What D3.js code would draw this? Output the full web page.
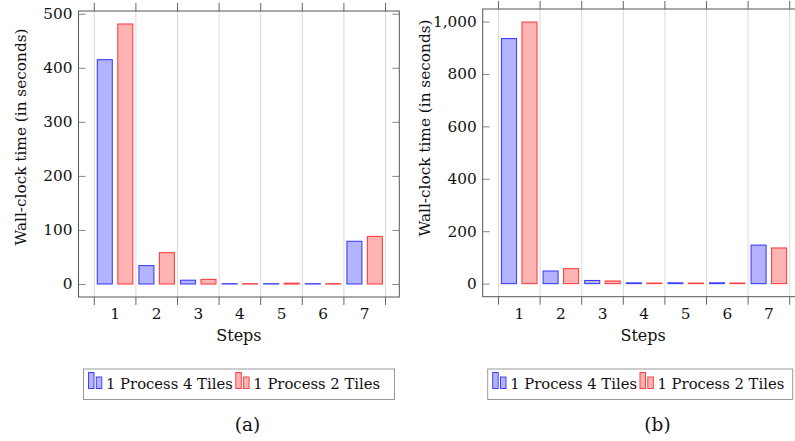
<!DOCTYPE html>
<html>
<head>
<meta charset="utf-8">
<script src="https://cdn.jsdelivr.net/npm/d3@7"></script>
<style>
  body { margin: 0; background: #fff; }
  text { font-family: "DejaVu Serif", serif; fill: #111; }
</style>
</head>
<body>
<div id="chart"></div>
<script>
// categories and series
var steps = ["1", "2", "3", "4", "5", "6", "7"];
var seriesNames = ["1 Process 4 Tiles", "1 Process 2 Tiles"];

// panel (a) values, seconds
var a4Tiles = [415, 34, 7, 0.6, 0.6, 0.6, 79];
var a2Tiles = [481, 58, 8.5, 0.6, 1.5, 0.6, 88];
var aTicks = [0, 100, 200, 300, 400, 500];

// panel (b) values, seconds
var b4Tiles = [935, 48, 12, 3, 3, 3, 147];
var b2Tiles = [998, 57, 10, 2, 2, 2, 136];
var bTicks = [0, 200, 400, 600, 800, 1000];

var colors = [
  {fill: "#b3b3ff", stroke: "#4040ff"},
  {fill: "#ffb3b3", stroke: "#ff4040"}
];
var fontSize = 15.3;

var svg = d3.select("#chart").append("svg")
    .attr("width", 795)
    .attr("height", 441);

function drawPanel(p) {
  var w = 320.8, h = p.bottom - p.top;
  var g = svg.append("g").attr("transform", "translate(" + p.left + "," + p.top + ")");

  var vmax = d3.max(p.series, function(s) { return d3.max(s); });
  var y = d3.scaleLinear()
      .domain([-0.05 * vmax, vmax * 1.05])
      .range([h, 0]);

  var x = d3.scaleBand()
      .domain(steps)
      .range([15.8, 15.8 + 7 * 41.6]);

  var xs = d3.scaleBand()
      .domain(seriesNames)
      .range([3, 38.5])
      .paddingInner(0.268);

  // band edges for grid + ticks
  var edges = steps.map(function(s) { return x(s); }).concat([x(steps[6]) + x.bandwidth()]);

  g.selectAll(".grid")
      .data(edges)
    .enter().append("line")
      .attr("x1", function(d) { return d; })
      .attr("x2", function(d) { return d; })
      .attr("y1", 0)
      .attr("y2", h)
      .attr("stroke", "#dadada");

  // outside x ticks, top and bottom
  g.selectAll(".xtb")
      .data(edges)
    .enter().append("line")
      .attr("x1", function(d) { return d; })
      .attr("x2", function(d) { return d; })
      .attr("y1", h)
      .attr("y2", h + 8)
      .attr("stroke", "#666");
  g.selectAll(".xtt")
      .data(edges)
    .enter().append("line")
      .attr("x1", function(d) { return d; })
      .attr("x2", function(d) { return d; })
      .attr("y1", 0)
      .attr("y2", -8)
      .attr("stroke", "#666");

  // bars
  p.series.forEach(function(vals, i) {
    g.selectAll(".bar" + i)
        .data(vals)
      .enter().append("rect")
        .attr("x", function(d, j) { return x(steps[j]) + xs(seriesNames[i]); })
        .attr("y", function(d) { return y(d); })
        .attr("width", xs.bandwidth())
        .attr("height", function(d) { return y(0) - y(d); })
        .attr("fill", colors[i].fill)
        .attr("stroke", colors[i].stroke)
        .attr("stroke-width", 1.1);
  });

  // y axis, ticks inside on both sides
  var yAxis = g.append("g")
      .call(d3.axisLeft(y).tickValues(p.ticks).tickSize(-7).tickPadding(6).tickFormat(d3.format(",")));
  yAxis.select(".domain").remove();
  yAxis.selectAll("line").attr("stroke", "#888");
  yAxis.selectAll("text").attr("font-size", fontSize).attr("fill", "#111")
      .attr("font-family", "DejaVu Serif");

  var yRight = g.append("g")
      .attr("transform", "translate(" + w + ",0)")
      .call(d3.axisRight(y).tickValues(p.ticks).tickSize(-7).tickFormat(""));
  yRight.select(".domain").remove();
  yRight.selectAll("line").attr("stroke", "#888");

  // x tick labels
  var xAxis = g.append("g")
      .attr("transform", "translate(0," + h + ")")
      .call(d3.axisBottom(x).tickSize(0).tickPadding(11));
  xAxis.select(".domain").remove();
  xAxis.selectAll("text").attr("font-size", fontSize).attr("fill", "#111")
      .attr("font-family", "DejaVu Serif");

  // frame
  g.append("rect")
      .attr("width", w)
      .attr("height", h)
      .attr("fill", "none")
      .attr("stroke", "#555");

  g.append("text")
      .attr("x", w / 2)
      .attr("y", 341 - p.top)
      .attr("text-anchor", "middle")
      .attr("font-size", 16)
      .text("Steps");

  g.append("text")
      .attr("transform", "translate(-57.5," + (p.labelY - p.top) + ") rotate(-90)")
      .attr("text-anchor", "middle")
      .attr("dominant-baseline", "central")
      .attr("font-size", fontSize)
      .text("Wall-clock time (in seconds)");

  // legend
  var lg = svg.append("g").attr("transform", "translate(" + (p.left + 5) + ",369)");
  lg.append("rect")
      .attr("width", p.legendW)
      .attr("height", 30.5)
      .attr("fill", "#fff")
      .attr("stroke", "#999");
  var cx = 5;
  seriesNames.forEach(function(name, i) {
    lg.append("rect").attr("x", cx).attr("y", 3.5).attr("width", 5.5).attr("height", 16)
        .attr("fill", colors[i].fill).attr("stroke", colors[i].stroke);
    lg.append("rect").attr("x", cx + 7.8).attr("y", 8).attr("width", 5.5).attr("height", 11.5)
        .attr("fill", colors[i].fill).attr("stroke", colors[i].stroke);
    var t = lg.append("text")
        .attr("x", cx + 17.5)
        .attr("y", 19.8)
        .attr("font-size", 14.8)
        .text(name);
    cx = cx + 17.5 + t.node().getComputedTextLength() + 3;
  });

  svg.append("text")
      .attr("x", p.capX)
      .attr("y", 431)
      .attr("text-anchor", "middle")
      .attr("font-size", 18.5)
      .text(p.caption);
}

drawPanel({left: 78.5, top: 11, bottom: 297, series: [a4Tiles, a2Tiles], ticks: aTicks,
  labelY: 137, capX: 247.5, caption: "(a)", legendW: 311});
drawPanel({left: 482.7, top: 9, bottom: 296.7, series: [b4Tiles, b2Tiles], ticks: bTicks,
  labelY: 128, capX: 657.5, caption: "(b)", legendW: 305});
</script>
</body>
</html>
